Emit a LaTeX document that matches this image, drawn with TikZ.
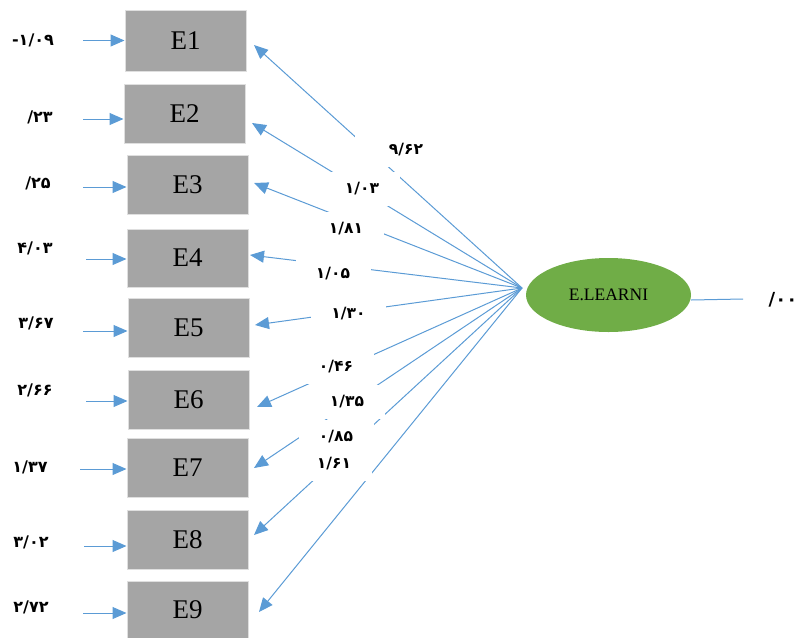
\documentclass[tikz,border=0pt]{standalone}
\usepackage{fontspec}
\setmainfont{Liberation Serif}
\newfontfamily\farsi{DejaVu Sans}
\usepackage{tikz}
\usetikzlibrary{positioning}
\usepackage{xcolor}
\usetikzlibrary{shapes,arrows.meta}
\definecolor{lineblue}{HTML}{5B9BD5}
\definecolor{boxgray}{HTML}{A5A5A5}
\definecolor{latgreen}{HTML}{70AD47}
\tikzset{
  ebox/.style={fill=boxgray, draw=gray!25, line width=1pt, minimum width=121pt, minimum height=59pt, inner sep=0pt, font=\fontsize{27}{27}\selectfont},
  latent/.style={ellipse, fill=latgreen, minimum width=165pt, minimum height=74pt, inner sep=0pt, font=\fontsize{17.5}{17.5}\selectfont},
  arr/.style={lineblue, line width=1pt},
  err/.style={inner sep=0pt, font=\farsi\bfseries\fontsize{16}{16}\selectfont},
  wt/.style={fill=white, minimum width=75pt, minimum height=34pt, inner sep=3pt, font=\farsi\bfseries\fontsize{15.5}{15.5}\selectfont}
}

\begin{document}
\begin{tikzpicture}[x=1pt, y=-1pt, >={Triangle[length=14pt,width=12pt]}]
\useasboundingbox (0,0) rectangle (802,637);

\node[ebox, minimum height=61pt] (E1) at (185.5,40.5) {E1};
\node[ebox] (E2) at (184.5,113.5) {E2};
\node[ebox] (E3) at (187.5,185) {E3};
\node[ebox, minimum height=58pt] (E4) at (187.5,258) {E4};
\node[ebox] (E5) at (188.5,327.5) {E5};
\node[ebox] (E6) at (188.5,399.5) {E6};
\node[ebox] (E7) at (187.5,467.5) {E7};
\node[ebox] (E8) at (187.5,539.5) {E8};
\node[ebox, minimum height=57pt] (E9) at (187.5,609.5) {E9};
\node[latent] (learn) at (608.5,295) {E.LEARNI};

\coordinate (src) at (522,288);
\coordinate (t1) at (254,45);
\coordinate (t2) at (252,123);
\coordinate (t3) at (254,183);
\coordinate (t4) at (250,255);
\coordinate (t5) at (255,325);
\coordinate (t6) at (257,407);
\coordinate (t7) at (254,468);
\coordinate (t8) at (254,535);
\coordinate (t9) at (259,612);
\coordinate (a1) at (83,40.5);
\coordinate (a2) at (83,119);
\coordinate (a3) at (83,187);
\coordinate (a4) at (86,259);
\coordinate (a5) at (83,331);
\coordinate (a6) at (86,401);
\coordinate (a7) at (80,469);
\coordinate (a8) at (84,546);
\coordinate (a9) at (83,613);
\coordinate (rend) at (743,299);

\draw[arr, ->] (a1) -- (a1 -| E1.west);
\draw[arr, ->] (a2) -- (a2 -| E2.west);
\draw[arr, ->] (a3) -- (a3 -| E3.west);
\draw[arr, ->] (a4) -- (a4 -| E4.west);
\draw[arr, ->] (a5) -- (a5 -| E5.west);
\draw[arr, ->] (a6) -- (a6 -| E6.west);
\draw[arr, ->] (a7) -- (a7 -| E7.west);
\draw[arr, ->] (a8) -- (a8 -| E8.west);
\draw[arr, ->] (a9) -- (a9 -| E9.west);

\draw[arr, ->] (src) -- (t1);
\draw[arr, ->] (src) -- (t2);
\draw[arr, ->] (src) -- (t3);
\draw[arr, ->] (src) -- (t4);
\draw[arr, ->] (src) -- (t5);
\draw[arr, ->] (src) -- (t6);
\draw[arr, ->] (src) -- (t7);
\draw[arr, ->] (src) -- (t8);
\draw[arr, ->] (src) -- (t9);
\draw[arr] ([yshift=-5pt]learn.east) -- (rend);

\node[wt, text width=62pt, align=right] (w1) at (392,150) {۹/۶۲};
\node[wt] (w2) at (362,188.5) {۱/۰۳};
\node[wt] (w3) at (346,229) {۱/۸۱};
\node[wt] (w4) at (333,274) {۱/۰۵};
\node[wt] (w5) at (348.5,314) {۱/۳۰};
\node[wt] (w6) at (336,367) {۰/۴۶};
\node[wt] (w7) at (347,402) {۱/۳۵};
\node[wt] (w8) at (336,437) {۰/۸۵};
\node[wt] (w9) at (334,464) {۱/۶۱};

\node[err] (e1) at (33,40) {-۱/۰۹};
\node[err] (e2) at (40,117) {/۲۳};
\node[err] (e3) at (38,183) {/۲۵};
\node[err] (e4) at (35,248) {۴/۰۳};
\node[err] (e5) at (36,323) {۳/۶۷};
\node[err] (e6) at (35,390) {۲/۶۶};
\node[err] (e7) at (30,467) {۱/۳۷};
\node[err] (e8) at (31,542) {۳/۰۲};
\node[err] (e9) at (31,607) {۲/۷۲};
\node[err, font=\farsi\bfseries\fontsize{18}{18}\selectfont] (r1) at (783,300) {/۰۰};
\end{tikzpicture}
\end{document}
